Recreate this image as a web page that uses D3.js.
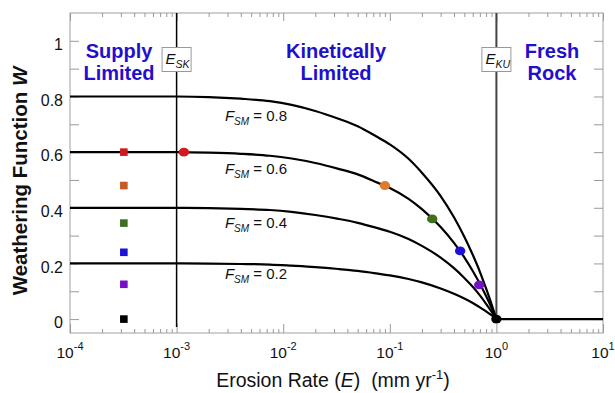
<!DOCTYPE html>
<html>
<head>
<meta charset="utf-8">
<script src="https://cdn.jsdelivr.net/npm/d3@7"></script>
<style>
  body { margin: 0; background: #fff; }
  svg { display: block; font-family: Arial, "Liberation Sans", sans-serif; }
</style>
</head>
<body>
<script>
// data
const erosion = [1e-4, 1e-3, 0.002, 0.004, 0.0075, 0.012, 0.02, 0.033, 0.05, 0.075, 0.1, 0.15, 0.2, 0.3, 0.4, 0.5, 0.6, 0.7, 0.8, 0.9, 1];
const fsmLevels = [0.8, 0.6, 0.4, 0.2];
const w08 = [0.8, 0.8, 0.798, 0.792, 0.783, 0.770, 0.748, 0.720, 0.693, 0.656, 0.628, 0.576, 0.526, 0.442, 0.366, 0.296, 0.231, 0.170, 0.110, 0.054, 0];
const w06 = [0.6, 0.6, 0.598, 0.594, 0.587, 0.577, 0.561, 0.540, 0.520, 0.492, 0.471, 0.432, 0.395, 0.331, 0.274, 0.222, 0.173, 0.127, 0.083, 0.041, 0];
const w04 = [0.4, 0.4, 0.399, 0.396, 0.392, 0.385, 0.374, 0.360, 0.346, 0.328, 0.314, 0.288, 0.263, 0.221, 0.183, 0.148, 0.116, 0.085, 0.055, 0.027, 0];
const w02 = [0.2, 0.2, 0.199, 0.198, 0.196, 0.192, 0.187, 0.180, 0.173, 0.164, 0.157, 0.144, 0.132, 0.110, 0.091, 0.074, 0.058, 0.042, 0.028, 0.014, 0];
const freshE = [1, 10];
const freshW = [0, 0];

const dotE = [0.00117, 0.09, 0.25, 0.457, 0.69, 1];
const dotW = [0.6, 0.48, 0.36, 0.245, 0.123, 0];
const squareE = 3.2e-4;
const squareW = [0.6, 0.48, 0.345, 0.24, 0.125, 0];
const markColors = ["#d01a1e", "#e07b2c", "#3c6f1e", "#1b12d6", "#7512c8", "#000000"];
const squareColors = ["#d01a1e", "#c95a22", "#3c6f1e", "#1b12d6", "#7512c8", "#000000"];

const E_SK = 1e-3;
const E_KU = 1;

const xMajor = [1e-4, 1e-3, 1e-2, 1e-1, 1, 10];
const yMajor = [0, 0.2, 0.4, 0.6, 0.8, 1];
const yMinor = [0.1, 0.3, 0.5, 0.7, 0.9];

function init() {
    const w = 615, h = 393;
    const left = 70, right = 603, top = 13, bottom = 333;
    const blue = "#1f10cc";

    const svg = d3.select("body").append("svg")
        .attr("width", w)
        .attr("height", h);

    const x = d3.scaleLog().domain([1e-4, 10]).range([left, right]);
    const y = d3.scaleLinear().domain([-0.05, 1.1]).range([bottom, top]);

    const xMinor = [];
    xMajor.slice(0, -1).forEach(d => {
        for (let k = 2; k <= 9; k++) xMinor.push(d * k);
    });

    // frame
    svg.append("rect")
        .attr("x", left).attr("y", top)
        .attr("width", right - left).attr("height", bottom - top)
        .attr("fill", "none")
        .attr("stroke", "#a0a0a0");

    function styleAxis(g) {
        g.select(".domain").remove();
        g.selectAll("line").attr("stroke", "#999");
    }

    // ticks, all pointing inward
    svg.append("g").attr("transform", "translate(0," + bottom + ")")
        .call(d3.axisBottom(x).tickValues(xMajor).tickSize(-9).tickFormat(""))
        .call(styleAxis);
    svg.append("g").attr("transform", "translate(0," + bottom + ")")
        .call(d3.axisBottom(x).tickValues(xMinor).tickSize(-4).tickFormat(""))
        .call(styleAxis);
    svg.append("g").attr("transform", "translate(0," + top + ")")
        .call(d3.axisTop(x).tickValues(xMajor).tickSize(-8).tickFormat(""))
        .call(styleAxis);
    svg.append("g").attr("transform", "translate(0," + top + ")")
        .call(d3.axisTop(x).tickValues(xMinor).tickSize(-4).tickFormat(""))
        .call(styleAxis);

    const yAxisLeft = svg.append("g").attr("transform", "translate(" + left + ",0)")
        .call(d3.axisLeft(y).tickValues(yMajor).tickSize(-9).tickPadding(7).tickFormat(d3.format("~g")))
        .call(styleAxis);
    yAxisLeft.selectAll("text")
        .attr("dy", "0.54em")
        .attr("fill", "#111")
        .style("font-size", "16px");
    svg.append("g").attr("transform", "translate(" + left + ",0)")
        .call(d3.axisLeft(y).tickValues(yMinor).tickSize(-9).tickFormat(""))
        .call(styleAxis);
    svg.append("g").attr("transform", "translate(" + right + ",0)")
        .call(d3.axisRight(y).tickValues(yMajor.concat(yMinor)).tickSize(-9).tickFormat(""))
        .call(styleAxis);

    // x tick labels with exponents
    const xLab = svg.append("g").selectAll("text")
        .data(xMajor)
        .enter()
        .append("text")
            .attr("x", d => x(d))
            .attr("y", 358)
            .attr("text-anchor", "middle")
            .attr("fill", "#111")
            .style("font-size", "15.5px");
    xLab.append("tspan").text("10");
    xLab.append("tspan")
        .attr("dy", -8)
        .style("font-size", "11px")
        .text(d => String(Math.round(Math.log10(d))));

    // regime boundaries
    svg.append("line")
        .attr("x1", x(E_SK)).attr("x2", x(E_SK))
        .attr("y1", top).attr("y2", 327)
        .attr("stroke", "#000").attr("stroke-width", 1.5);
    svg.append("line")
        .attr("x1", x(E_KU)).attr("x2", x(E_KU))
        .attr("y1", top).attr("y2", y(0))
        .attr("stroke", "#444").attr("stroke-width", 2);

    // curves
    const line = d3.line()
        .x(d => x(d[0]))
        .y(d => y(d[1]))
        .curve(d3.curveMonotoneX);
    const curves = [w08, w06, w04, w02].map(ws => erosion.map((e, i) => [e, ws[i]]));
    curves.push(freshE.map((e, i) => [e, freshW[i]]));

    svg.selectAll(".curve")
        .data(curves)
        .enter()
        .append("path")
            .attr("class", "curve")
            .attr("d", line)
            .attr("fill", "none")
            .attr("stroke", "#000")
            .attr("stroke-width", 2.2);

    // curve labels
    const labelE = 0.00284;
    const labelOffset = [25, 21.5, 20, 16];
    const fLab = svg.append("g").selectAll("text")
        .data(fsmLevels)
        .enter()
        .append("text")
            .attr("x", x(labelE))
            .attr("y", (d, i) => y(d) + labelOffset[i])
            .attr("fill", "#111")
            .style("font-size", "15px");
    fLab.append("tspan").style("font-style", "italic").text("F");
    fLab.append("tspan").attr("dy", 4).style("font-style", "italic").style("font-size", "10px").text("SM");
    fLab.append("tspan").attr("dy", -4).text(d => " = " + d);

    // squares
    svg.selectAll(".sq")
        .data(squareW)
        .enter()
        .append("rect")
            .attr("class", "sq")
            .attr("x", x(squareE) - 3.8)
            .attr("y", d => y(d) - 3.8)
            .attr("width", 7.6)
            .attr("height", 7.6)
            .attr("fill", (d, i) => squareColors[i]);

    // dots on the F_SM = 0.6 curve
    svg.selectAll(".dot")
        .data(dotW)
        .enter()
        .append("ellipse")
            .attr("class", "dot")
            .attr("cx", (d, i) => x(dotE[i]))
            .attr("cy", d => y(d))
            .attr("rx", 5.2)
            .attr("ry", 4.4)
            .attr("fill", (d, i) => markColors[i]);

    // E_SK / E_KU boxes
    [[E_SK, "SK"], [E_KU, "KU"]].forEach(([e, sub]) => {
        svg.append("rect")
            .attr("x", x(e) - 14.5).attr("y", 47.5)
            .attr("width", 29).attr("height", 24)
            .attr("fill", "#fff")
            .attr("stroke", "#999");
        const t = svg.append("text")
            .attr("x", x(e) - 11).attr("y", 64)
            .attr("fill", "#111")
            .style("font-style", "italic")
            .style("font-size", "15px");
        t.append("tspan").text("E");
        t.append("tspan").attr("dy", 4).style("font-size", "10.5px").text(sub);
    });

    // regime titles
    const regimes = [
        [119, "Supply", "Limited"],
        [336, "Kinetically", "Limited"],
        [552, "Fresh", "Rock"]
    ];
    regimes.forEach(([cx, a, b]) => {
        [a, b].forEach((s, i) => {
            svg.append("text")
                .attr("x", cx).attr("y", 58 + i * 22)
                .attr("text-anchor", "middle")
                .attr("fill", blue)
                .style("font-weight", "bold")
                .style("font-size", "20px")
                .text(s);
        });
    });

    // axis titles
    const xt = svg.append("text")
        .attr("x", 333).attr("y", 387)
        .attr("text-anchor", "middle")
        .attr("fill", "#111")
        .style("font-size", "19.5px")
        .style("white-space", "pre");
    xt.append("tspan").text("Erosion Rate (");
    xt.append("tspan").style("font-style", "italic").text("E");
    xt.append("tspan").text(")  (mm yr");
    xt.append("tspan").attr("dy", -8).style("font-size", "13px").text("-1");
    xt.append("tspan").attr("dy", 8).text(")");

    const yt = svg.append("text")
        .attr("transform", "translate(27,181) rotate(-90)")
        .attr("text-anchor", "middle")
        .attr("fill", "#111")
        .style("font-weight", "bold")
        .style("font-size", "20.5px");
    yt.append("tspan").text("Weathering Function ");
    yt.append("tspan").style("font-style", "italic").text("W");
}

window.onload = init;
</script>
</body>
</html>
